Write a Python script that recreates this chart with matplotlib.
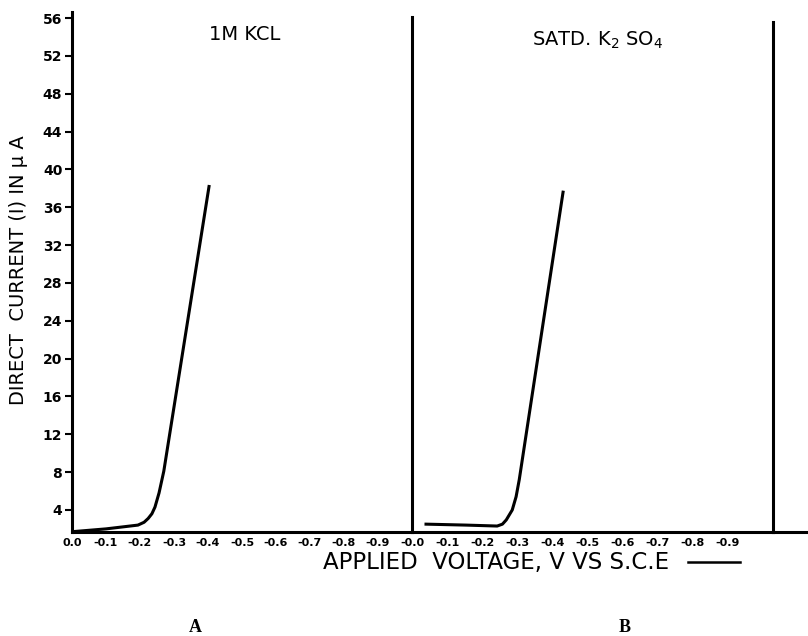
import matplotlib.pyplot as plt
from matplotlib.lines import Line2D

# values
volts_a = [0, -0.1, -0.194, -0.212, -0.224, -0.235, -0.244, -0.256, -0.27, -0.403]
current_a = [1.7, 2.0, 2.4, 2.7, 3.1, 3.6, 4.3, 5.8, 8.1, 38.2]
volts_b = [-0.04, -0.154, -0.243, -0.258, -0.269, -0.286, -0.297, -0.306, -0.431]
current_b = [2.5, 2.4, 2.3, 2.5, 2.95, 4.0, 5.4, 7.2, 37.6]

y_ticks = [4, 8, 12, 16, 20, 24, 28, 32, 36, 40, 44, 48, 52, 56]
x_ticks = [0, -0.1, -0.2, -0.3, -0.4, -0.5, -0.6, -0.7, -0.8, -0.9]
x_labels_a = ['0.0', '-0.1', '-0.2', '-0.3', '-0.4', '-0.5', '-0.6', '-0.7', '-0.8', '-0.9']
x_labels_b = ['-0.0', '-0.1', '-0.2', '-0.3', '-0.4', '-0.5', '-0.6', '-0.7', '-0.8', '-0.9']
titles = ['1M KCL', 'SATD. K$_2$ SO$_4$']
letters = ['A', 'B']

W, H = 808, 636
LW = 2.2
Y_LIM = (1.67, 56.65)


def box(x0, y0, x1, y1):
    # pixel box -> figure fraction rect
    return [x0 / W, 1 - y1 / H, (x1 - x0) / W, (y1 - y0) / H]


fig = plt.figure(figsize=(W / 100, H / 100), dpi=100)
ax_a = fig.add_axes(box(72, 12, 412, 532))
ax_b = fig.add_axes(box(412, 12, 773, 532))

ax_a.plot(volts_a, current_a, color='black', lw=LW, solid_joinstyle='round')
ax_b.plot(volts_b, current_b, color='black', lw=LW, solid_joinstyle='round')

ax_a.set_xlim(0, -1.0)
ax_b.set_xlim(0, -1.03)
for ax, labels in ((ax_a, x_labels_a), (ax_b, x_labels_b)):
    ax.set_ylim(*Y_LIM)
    ax.set_xticks(x_ticks)
    ax.set_xticklabels(labels, fontsize=8, fontweight='bold')
    ax.tick_params(axis='x', length=0, pad=4)
    ax.spines['top'].set_visible(False)
    for s in ax.spines.values():
        s.set_linewidth(LW)
        s.set_color('black')
    ax.patch.set_alpha(0)

ax_a.spines['right'].set_visible(False)
ax_a.set_yticks(y_ticks)
ax_a.set_yticklabels([str(v) for v in y_ticks], fontsize=10, fontweight='bold')
ax_a.tick_params(axis='y', length=5, width=1.5, pad=2)

ax_b.tick_params(axis='y', left=False, labelleft=False)
ax_b.spines['left'].set_bounds(Y_LIM[0], 56.1)
ax_b.spines['right'].set_bounds(Y_LIM[0], 55.6)

# bottom line runs on past the right frame
fig.add_artist(Line2D([773 / W, 808 / W], [1 - 532 / H] * 2, lw=LW, color='black'))

fig.text(245 / W, 1 - 35 / H, titles[0], fontsize=14, ha='center', va='center')
fig.text(598 / W, 1 - 40 / H, titles[1], fontsize=14, ha='center', va='center')

fig.text(19 / W, 1 - 270 / H, 'DIRECT  CURRENT (I) IN \u03bc A', rotation=90,
         fontsize=14, ha='center', va='center')
fig.text(496 / W, 1 - 563 / H, 'APPLIED  VOLTAGE, V VS S.C.E', fontsize=16.5,
         ha='center', va='center')
fig.add_artist(Line2D([688 / W, 740 / W], [1 - 562 / H] * 2, lw=1.8, color='black'))

fig.text(195 / W, 1 - 627 / H, letters[0], fontsize=13, fontweight='bold',
         family='Liberation Serif', ha='center', va='center')
fig.text(625 / W, 1 - 628 / H, letters[1], fontsize=13, fontweight='bold',
         family='Liberation Serif', ha='center', va='center')

fig.savefig('out.png', dpi=100)
